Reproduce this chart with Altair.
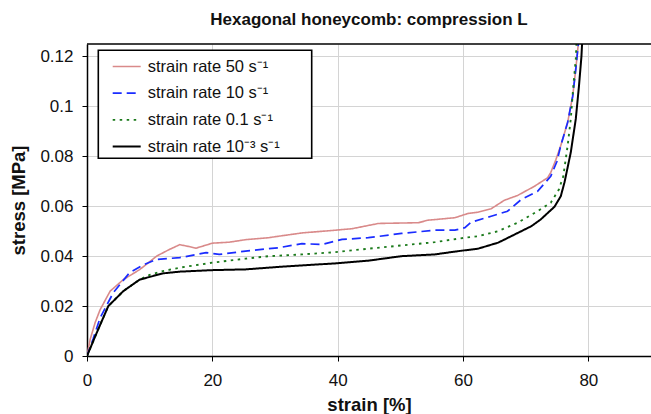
import altair as alt
import pandas as pd

# ---- data ----
labels = ["strain rate 50 s⁻¹", "strain rate 10 s⁻¹", "strain rate 0.1 s⁻¹", "strain rate 10⁻³ s⁻¹"]

strain_50 = [0, 0.5, 1.3, 2.1, 3.7, 5.8, 8.4, 11.1, 13.0, 14.8, 16.0, 17.4, 20.0, 22.7, 25.3, 29.0, 30.6,
             34.3, 39.6, 42.3, 46.5, 52.9, 54.4, 58.7, 60.8, 62.4, 64.5, 66.6, 68.7, 71.4, 73.5, 74.0,
             74.8, 75.6, 76.7, 77.5, 78.0, 78.4]
stress_50 = [0, 0.0066, 0.0134, 0.0186, 0.026, 0.0306, 0.0346, 0.040, 0.0425, 0.0446, 0.0440, 0.0432,
             0.0452, 0.0456, 0.0466, 0.0474, 0.048, 0.0493, 0.0504, 0.051, 0.0531, 0.0534, 0.0544,
             0.0554, 0.0571, 0.0576, 0.059, 0.0624, 0.0643, 0.068, 0.0714, 0.0735, 0.0785, 0.0843,
             0.0936, 0.104, 0.115, 0.125]

strain_10 = [0, 1.0, 2.1, 4.2, 6.8, 9.0, 11.1, 14.8, 19.0, 21.1, 25.3, 29.0, 30.6, 34.3, 37.5, 40.7,
             44.9, 50.2, 55.5, 58.7, 60.3, 61.3, 64.5, 67.1, 69.3, 71.9, 74.0, 75.0, 75.6, 76.7, 77.5,
             78.0, 78.4]
stress_10 = [0, 0.007, 0.0153, 0.0254, 0.0334, 0.0365, 0.0387, 0.0394, 0.0414, 0.0407, 0.042, 0.043,
             0.0434, 0.045, 0.0447, 0.0467, 0.0474, 0.0491, 0.0504, 0.0504, 0.0514, 0.0536, 0.056,
             0.058, 0.0627, 0.066, 0.072, 0.078, 0.0843, 0.0936, 0.104, 0.115, 0.125]

strain_01 = [0, 1.5, 3.4, 5.8, 8.4, 10.0, 12.1, 14.8, 20.0, 25.3, 29.0, 34.3, 39.6, 44.9, 50.2, 55.5,
             60.3, 62.4, 65.6, 68.7, 71.9, 74.0, 75.3, 76.0, 76.7, 77.2, 77.6, 78.0, 78.1]
stress_01 = [0, 0.009, 0.02, 0.026, 0.0306, 0.0325, 0.034, 0.0354, 0.0374, 0.039, 0.040, 0.0407,
             0.0416, 0.043, 0.0443, 0.0456, 0.0474, 0.048, 0.050, 0.0534, 0.058, 0.0614, 0.0667,
             0.072, 0.0843, 0.095, 0.108, 0.119, 0.125]

strain_0001 = [0, 1.5, 3.4, 5.8, 8.4, 12.1, 14.8, 20.0, 25.3, 29.0, 30.6, 34.3, 39.6, 44.9, 50.2, 55.5,
               59.2, 62.4, 65.6, 67.7, 70.9, 72.4, 74.6, 75.6, 76.2, 77.2, 78.0, 78.5, 78.9, 79.0]
stress_0001 = [0, 0.009, 0.02, 0.026, 0.0306, 0.0331, 0.0338, 0.0344, 0.0347, 0.0354, 0.0357, 0.0363,
               0.0371, 0.0382, 0.040, 0.0407, 0.042, 0.043, 0.0454, 0.048, 0.052, 0.0547, 0.0598,
               0.064, 0.0696, 0.0816, 0.095, 0.108, 0.12, 0.125]

x_ticks = [0, 20, 40, 60, 80]
y_ticks = [0, 0.02, 0.04, 0.06, 0.08, 0.1, 0.12]

# ---- styles ----
colors = ["#d98a8a", "#1a2cff", "#1b7a1b", "#000000"]
dashes = [[1, 0], [9, 5], [2.5, 4.5], [1, 0]]
widths = [1.6, 2.0, 2.6, 3.0]

frames = []
for lab, xs, ys in zip(labels,
                       [strain_50, strain_10, strain_01, strain_0001],
                       [stress_50, stress_10, stress_01, stress_0001]):
    frames.append(pd.DataFrame({"strain": xs, "stress": ys, "series": lab}))
df = pd.concat(frames, ignore_index=True)

FONT = "Liberation Sans"
LEG = dict(title=None)

lines = alt.Chart(df).mark_line(clip=True).encode(
    x=alt.X("strain:Q",
            scale=alt.Scale(domain=[0, 90], nice=False, zero=False),
            axis=alt.Axis(values=x_ticks, title="strain [%]", titleY=48, titleBaseline="middle",
                          labelFlush=False)),
    y=alt.Y("stress:Q",
            scale=alt.Scale(domain=[0, 0.125], nice=False),
            axis=alt.Axis(values=y_ticks, format=".2~f", title="stress [MPa]",
                          titleX=-69, titleY=156, titleAngle=270, titleBaseline="middle",
                          titleAlign="center", labelFlush=False)),
    color=alt.Color("series:N", scale=alt.Scale(domain=labels, range=colors),
                    legend=alt.Legend(**LEG)),
    strokeDash=alt.StrokeDash("series:N", scale=alt.Scale(domain=labels, range=dashes),
                              legend=alt.Legend(**LEG)),
    strokeWidth=alt.StrokeWidth("series:N", scale=alt.Scale(domain=labels, range=widths),
                                legend=alt.Legend(**LEG)),
    order=alt.Order("strain:Q"),
)

# plot frame (top edge) and the legend's box
top_frame = alt.Chart(pd.DataFrame({"k": [0]})).mark_rule(color="black", strokeWidth=1.5).encode(
    y=alt.value(0), x=alt.value(0), x2=alt.value(564)
)
legend_box = alt.Chart(pd.DataFrame({"k": [0]})).mark_rect(
    fill="white", stroke="black", strokeWidth=1.6
).encode(x=alt.value(11.3), x2=alt.value(224.7), y=alt.value(6.3), y2=alt.value(114.3))

chart = alt.layer(lines, top_frame, legend_box).properties(
    width=564,
    height=312,
    autosize=alt.AutoSizeParams(type="none"),
    padding={"left": 87, "top": 44, "right": 0, "bottom": 58},
    title=alt.TitleParams("Hexagonal honeycomb: compression L", font=FONT, fontSize=17,
                          fontWeight="bold", color="#111111", anchor="middle",
                          baseline="bottom", offset=16, frame="group", dy=19),
).configure_view(stroke=None).configure_axis(
    labelFont=FONT, labelFontSize=17, labelColor="#111111",
    titleFont=FONT, titleFontSize=18.5, titleFontWeight="bold", titleColor="#111111",
    domainColor="black", domainWidth=1.5, tickColor="black", tickSize=5, tickWidth=1,
    gridColor="#d4d4d4", gridWidth=1, labelPadding=9,
).configure_axisX(labelPadding=11).configure_legend(
    orient="none", legendX=24.7, legendY=7.5, padding=0, rowPadding=2.7,
    symbolType="stroke", symbolSize=784, symbolOffset=0, labelOffset=6,
    labelFont=FONT, labelFontSize=16.5, labelColor="#111111",
)

chart.save("out.html", embed_options={"renderer": "svg", "actions": False})
